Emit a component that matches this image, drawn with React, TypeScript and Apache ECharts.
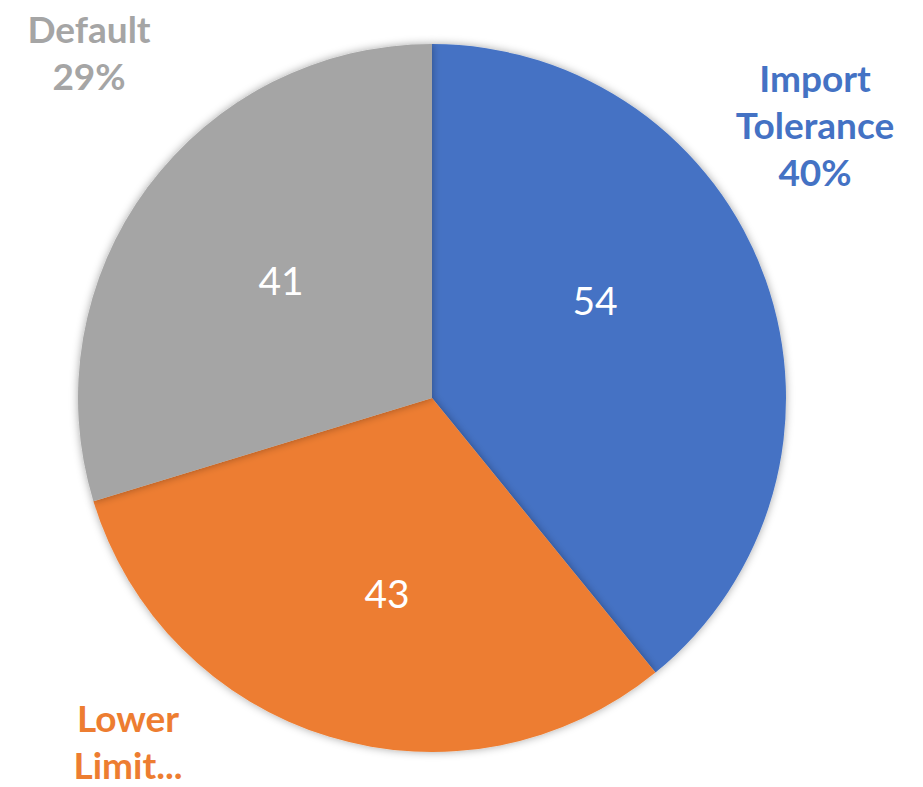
import React, { useEffect, useRef } from "react";
import * as echarts from "echarts";

const categories = ["Import Tolerance", "Lower Limit…", "Default"];
const values = [54, 43, 41];
const outerLabelText = ["Import\nTolerance\n40%", "Lower\nLimit...", "Default\n29%"];
const colors = ["#4472C4", "#ED7D31", "#A5A5A5"];

const outerLabelPos: number[][] = [
  [815, 124],
  [128, 741],
  [89, 52],
];
const innerLabelPos: number[][] = [
  [595, 300],
  [387, 593],
  [281, 280],
];

export default function App() {
  const ref = useRef<HTMLDivElement>(null);
  useEffect(() => {
    if (!ref.current) return;
    const chart = echarts.init(ref.current, null, { renderer: "svg" });
    const data = categories.map((c, i) => ({
      name: c,
      value: values[i],
      itemStyle: { color: colors[i] },
    }));
    chart.setOption({
      animation: false,
      backgroundColor: "#ffffff",
      series: [
        {
          type: "pie",
          center: [432, 398],
          radius: 354,
          startAngle: 90,
          clockwise: true,
          data,
          itemStyle: {
            shadowBlur: 8,
            shadowColor: "rgba(0,0,0,0.35)",
          },
          label: {
            show: true,
            position: "inside",
            formatter: "{c}",
            color: "#ffffff",
            fontFamily: "Lato",
            fontSize: 39,
            overflow: "none",
          },
          labelLine: { show: false },
          labelLayout: (p: any) => ({
            x: innerLabelPos[p.dataIndex][0],
            y: innerLabelPos[p.dataIndex][1],
            align: "center",
            verticalAlign: "middle",
          }),
          emphasis: { disabled: true },
        },
        {
          type: "pie",
          center: [432, 398],
          radius: 354,
          startAngle: 90,
          clockwise: true,
          silent: true,
          data: categories.map((c, i) => ({
            name: c,
            value: values[i],
            itemStyle: { color: "rgba(0,0,0,0)" },
            label: { color: colors[i] },
          })),
          label: {
            show: true,
            position: "outside",
            formatter: (p: any) => outerLabelText[p.dataIndex],
            fontFamily: "Lato",
            fontWeight: "bold",
            fontSize: 37,
            lineHeight: 47,
            align: "center",
            overflow: "none",
            width: 300,
          },
          labelLine: { show: false },
          labelLayout: (p: any) => ({
            x: outerLabelPos[p.dataIndex][0],
            y: outerLabelPos[p.dataIndex][1],
            align: "center",
            verticalAlign: "middle",
          }),
          emphasis: { disabled: true },
        },
      ],
    });
    return () => chart.dispose();
  }, []);
  return (
    <div
      ref={ref}
      style={{ position: "fixed", left: 0, top: 0, width: 923, height: 787 }}
    />
  );
}
